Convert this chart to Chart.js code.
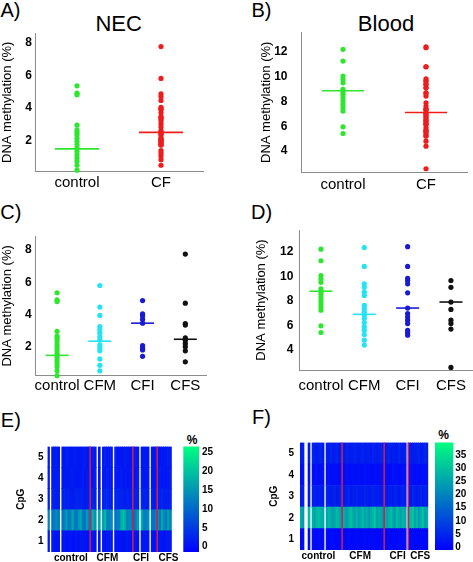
<!DOCTYPE html>
<html><head><meta charset="utf-8">
<script src="https://cdn.jsdelivr.net/npm/chart.js@4.4.1/dist/chart.umd.min.js"></script>
<style>
html,body{margin:0;padding:0;background:#fff;width:473px;height:562px;overflow:hidden;position:relative;font-family:"Liberation Sans",Arial,sans-serif}
canvas{position:absolute}
.t{position:absolute;transform:translate(-50%,-50%);white-space:nowrap;line-height:1;color:#000}
</style></head><body>
<div class="t" style="left:10.5px;top:10px;font-size:20px">A)</div>
<div class="t" style="left:118.7px;top:24px;font-size:22px">NEC</div>
<div class="t" style="left:261.5px;top:10px;font-size:20px">B)</div>
<div class="t" style="left:386px;top:24px;font-size:22px">Blood</div>
<div class="t" style="left:10.8px;top:212px;font-size:20px">C)</div>
<div class="t" style="left:261.5px;top:211.7px;font-size:20px">D)</div>
<div class="t" style="left:10.8px;top:420px;font-size:20px">E)</div>
<div class="t" style="left:261.5px;top:416.7px;font-size:20px">F)</div>
<div class="t" style="left:192px;top:439.5px;font-size:12px;font-weight:bold">%</div>
<div class="t" style="left:443.7px;top:435px;font-size:12px;font-weight:bold">%</div>
<script>
// ---------- data ----------
const groupNames = ['control', 'CFM', 'CFI', 'CFS'];
const twoGroups = ['control', 'CF'];

const necControl = [5.35, 4.9, 4.8, 2.95, 2.65, 2.5, 2.35, 2.15, 1.95, 1.75, 1.55, 1.35, 1.15, 0.95, 0.75, 0.5, 0.2];
const necCFM = [5.8, 4.46, 3.94, 3.24, 3.04, 2.84, 2.6, 2.4, 2.1, 1.94, 1.74, 1.24, 0.84, 0.5];
const necCFI = [4.86, 4.04, 3.9, 3.7, 3.46, 2.06, 1.9, 1.8, 1.4];
const necCFS = [7.75, 4.7, 3.44, 3.34, 2.54, 2.4, 2.2, 2.0, 1.74, 1.06];
const necMediansA = [1.5, 2.51];
const necMediansC = [1.46, 2.34, 3.46, 2.46];

const bloodControl = [12.2, 11.26, 10.05, 9.78, 9.5, 8.97, 8.76, 8.57, 8.3, 8.03, 7.76, 7.5, 7.23, 5.96, 5.42];
const bloodCFM = [12.33, 10.8, 9.38, 9.1, 8.7, 8.44, 7.63, 7.36, 7.04, 6.82, 6.55, 6.23, 5.88, 5.6, 5.26, 4.8, 4.4];
const bloodCFI = [12.4, 10.8, 9.83, 9.65, 9.38, 8.65, 7.41, 6.96, 6.69, 6.42, 6.15, 5.6, 5.42, 5.2];
const bloodCFS = [9.65, 9.1, 7.9, 7.3, 6.42, 6.15, 5.7, 2.58];
const bloodMediansB = [8.86, 7.11];
const bloodMediansD = [8.78, 6.9, 7.41, 7.9];

const necTicks = [2, 4, 6, 8];
const bloodTicks = [4, 6, 8, 10, 12];
const cpgTicks = [1, 2, 3, 4, 5];
const eBarTicks = [0, 5, 10, 15, 20, 25];
const fBarTicks = [0, 5, 10, 15, 20, 25, 30, 35];
const eRange = [-1.4, 26.6];
const fRange = [-1, 39.7];
const eGroupSizes = [21, 21, 12, 8];
const fGroupSizes = [21, 21, 12, 10];
const eGroupTicks = [11, 29, 45.5, 59];
const fGroupTicks = [8.7, 29.5, 48.2, 59.5];

// NEC heatmap (E): CpG rows, one value per sample column
const eCpG1 = [1,null,1.5,1,0.5,1,null,1,1.5,0.5,
  1,1,0.5,1,1.5,0.5,1,1,1,0.5,
  1,1,1.5,0.5,null,1,null,1,0.5,1,
  1,1.5,null,0.5,1,1,1,0.5,1,1.5,
  1,0.5,1,1,0.5,null,1,1,1.5,1,
  null,1,0.5,1,1,1.5,1,0.5,1,1,
  1,null];
const eCpG2 = [13,null,11,12,14,12,null,11,13,16,
  11,13,17,12,11,15,17,12,11,16,
  13,14,18,15,null,17,null,16,19,13,
  12,14,null,11,12,13,18,20,17,12,
  14,13,11,12,16,null,18,13,12,14,
  null,12,11,13,15,12,17,14,12,16,
  13,null];
const eCpG3 = [2,null,2.5,2,1.5,2,null,2,3,2,
  2.5,2,1.5,2,3,2,2.5,2,1.5,2,
  2,2.5,3,2,null,2.5,null,2,2.5,3,
  2,1.5,null,2,2.5,2,3,2,2,2.5,
  2,2,1.5,2.5,2,null,3,2,2.5,2,
  null,2,1.5,2,2.5,2,3,2,2,1.5,
  2,null];
const eCpG4 = [1.5,null,1,1.5,1,2,null,1,1.5,1,
  1,1.5,2,1,1,1.5,1,2,1,1.5,
  1,1.5,1,2,null,1,null,1.5,1,2,
  1.5,1,null,1,1.5,1,2,1,1.5,1,
  1,1.5,1,1,2,null,1.5,1,1,1.5,
  null,1,1.5,1,1,2,1,1.5,1,1,
  1.5,null];
const eCpG5 = [1,null,1.5,1,2,1,null,1.5,1,2,
  1.5,1,1,2,1.5,1,1,1.5,2,1,
  1.5,1,2,1,null,1.5,null,1,2,1,
  1,1.5,null,2,1,1,1.5,1,2,1,
  1.5,1,1,2,1,null,1,1.5,1,1,
  null,1.5,1,2,1,1,1.5,1,1,2,
  1,null];

// Blood heatmap (F)
const fCpG1 = [0.5,1,null,null,0.5,null,1,0.5,0.5,1,
  0.5,0.5,null,1,0.5,0.5,1,0.5,0.5,0.5,
  1,0.5,0.5,0.5,1,0.5,0.5,0.5,1,0.5,
  0.5,0.5,1,0.5,0.5,0.5,1,0.5,0.5,0.5,
  1,0.5,0.5,0.5,1,0.5,0.5,0.5,0.5,1,
  0.5,0.5,1,null,0.5,0.5,1,0.5,0.5,0.5,
  1,0.5,0.5,0.5];
const fCpG2 = [26,24,null,null,29,null,27,25,28,30,
  27,26,null,25,28,27,24,26,29,27,
  25,28,26,24,27,30,26,25,28,24,
  26,29,25,27,24,26,28,31,25,27,
  26,24,28,25,27,30,26,24,29,27,
  25,28,26,null,27,29,31,25,28,24,
  27,30,25,26];
const fCpG3 = [3,4,null,null,3,null,4,5,3,4,
  4,3,null,5,4,3,4,5,3,4,
  5,4,3,4,5,3,4,4,5,3,
  4,3,5,4,3,4,5,4,3,4,
  3,4,5,3,4,4,3,5,4,3,
  4,5,3,null,4,3,5,4,3,4,
  5,3,4,4];
const fCpG4 = [1,1.5,null,null,1,null,1.5,1,2,1,
  1,1.5,null,1,2,1,1,1.5,1,1,
  1.5,1,1,2,1,1,1.5,1,1,1.5,
  1,1,2,1,1.5,1,1,1.5,1,1,
  2,1,1,1.5,1,1,2,1,1.5,1,
  1,1.5,1,null,1,2,1,1,1.5,1,
  1,1.5,1,2];
const fCpG5 = [3,4,null,null,3,null,5,4,3,4,
  5,3,null,4,4,5,3,4,5,3,
  4,4,3,5,4,3,4,5,4,3,
  4,5,3,4,4,3,5,4,3,4,
  5,4,3,4,5,3,4,4,3,5,
  4,3,4,null,5,4,3,4,4,5,
  3,4,5,4];

// ---------- helpers ----------
const FAM = '"Liberation Sans", Arial, sans-serif';
Chart.defaults.font.family = FAM;
Chart.defaults.color = '#000';
const AX = '#8c8c8c';
const GREEN = '#2ee62e', RED = '#ee1c1c', CYAN = '#25e3f2', BLUE = '#1a1ad6', BLACK = '#111111';
const NOGRID = {display: false, drawTicks: false, tickLength: 0};

function mkCanvas(r) {
  const c = document.createElement('canvas');
  c.width = r.w; c.height = r.h;
  c.style.left = r.x + 'px'; c.style.top = r.y + 'px';
  c.style.width = r.w + 'px'; c.style.height = r.h + 'px';
  document.body.appendChild(c);
  return c;
}
function winter(v, range) {
  let t = (v - range[0]) / (range[1] - range[0]);
  t = Math.max(0, Math.min(1, t));
  return 'rgb(0,' + Math.round(255 * t) + ',' + Math.round(255 * (1 - 0.5 * t)) + ')';
}

function dotPanel(rect, area, o) {
  const cv = mkCanvas(rect);
  const ds = [{
    data: o.cats.map((c, i) => ({x: c, y: o.medians[i]})),
    showLine: false, pointStyle: 'line', pointRadius: o.medR, pointBorderWidth: 1.6,
    pointBorderColor: o.colors, pointBackgroundColor: o.colors, clip: false
  }];
  o.groups.forEach((g, i) => ds.push({
    data: g.map(v => ({x: o.cats[i], y: v})), showLine: false, pointRadius: 2.6,
    pointBackgroundColor: o.colors[i], pointBorderColor: o.colors[i], pointBorderWidth: 0, clip: false
  }));
  new Chart(cv, {
    type: 'line',
    data: {labels: o.cats, datasets: ds},
    options: {
      responsive: false, animation: false, events: [],
      layout: {padding: {left: 0, top: area.t - rect.y, right: rect.x + rect.w - area.r, bottom: 0}},
      plugins: {legend: {display: false}, tooltip: {enabled: false}},
      scales: {
        x: {type: 'category', offset: true, grid: NOGRID, border: {color: AX, width: 1},
          ticks: {font: {size: 15}, color: '#000', padding: o.xPad, maxRotation: 0, autoSkip: false},
          afterFit(s) { s.height = rect.y + rect.h - area.b; }},
        y: {type: 'linear', min: o.yMin, max: o.yMax, grid: NOGRID, border: {color: AX, width: 1},
          ticks: {font: {size: 12, weight: 'bold'}, color: '#000', padding: o.yPad},
          afterBuildTicks(s) { s.ticks = o.yTicks.map(v => ({value: v})); },
          afterFit(s) { s.width = area.l - rect.x; },
          title: {display: true, text: 'DNA methylation (%)', font: {size: 13}, color: '#000', padding: {top: o.tPad, bottom: 0}}}
      }
    }
  });
}

function heatPanel(rect, area, o) {
  const cv = mkCanvas(rect);
  const labels = o.rows[0].map((_, i) => String(i));
  const ds = o.rows.map((row, r) => ({
    data: row.map(v => v == null ? null : [r + 0.5, r + 1.5]),
    backgroundColor: row.map(v => v == null ? 'rgba(0,0,0,0)' : winter(v, o.range)),
    grouped: false, barPercentage: 1, categoryPercentage: 1, borderWidth: 0
  }));
  const sep = {
    id: 'sep',
    afterDatasetsDraw(chart) {
      const xs = chart.scales.x, a = chart.chartArea, ctx = chart.ctx;
      ctx.save(); ctx.strokeStyle = '#cc2050'; ctx.lineWidth = 1.6;
      let c = 0;
      for (let i = 0; i < o.sizes.length - 1; i++) {
        c += o.sizes[i];
        const x = xs.getPixelForValue(c - 0.5);
        ctx.beginPath(); ctx.moveTo(x, a.top); ctx.lineTo(x, a.bottom); ctx.stroke();
      }
      ctx.restore();
    }
  };
  new Chart(cv, {
    type: 'bar',
    data: {labels, datasets: ds},
    plugins: [sep],
    options: {
      responsive: false, animation: false, events: [],
      layout: {padding: {left: 0, top: area.t - rect.y, right: rect.x + rect.w - area.r, bottom: 0}},
      plugins: {legend: {display: false}, tooltip: {enabled: false}},
      scales: {
        x: {type: 'category', offset: true, grid: NOGRID, border: {display: false},
          ticks: {font: {size: 10, weight: 'bold'}, color: '#000', padding: 0, maxRotation: 0, autoSkip: false,
            callback: (v, i) => groupNames[i]},
          afterBuildTicks(s) { s.ticks = o.groupTicks.map(v => ({value: v})); },
          afterFit(s) { s.height = rect.y + rect.h - area.b; }},
        y: {type: 'linear', min: 0.5, max: 5.5, grid: NOGRID, border: {display: false},
          ticks: {font: {size: 10, weight: 'bold'}, color: '#000', padding: o.yPad},
          afterBuildTicks(s) { s.ticks = cpgTicks.map(v => ({value: v})); },
          afterFit(s) { s.width = area.l - rect.x; },
          title: {display: true, text: 'CpG', font: {size: 10, weight: 'bold'}, color: '#000', padding: {top: o.tPad, bottom: 0}}}
      }
    }
  });
}

function colorBar(rect, area, o) {
  const cv = mkCanvas(rect);
  const grad = {
    id: 'grad',
    beforeDatasetsDraw(chart) {
      const ys = chart.scales.y, a = chart.chartArea, ctx = chart.ctx;
      const y0 = ys.getPixelForValue(o.range[0]), y1 = ys.getPixelForValue(o.range[1]);
      const g = ctx.createLinearGradient(0, y0, 0, y1);
      g.addColorStop(0, winter(o.range[0], o.range));
      g.addColorStop(1, winter(o.range[1], o.range));
      ctx.save(); ctx.fillStyle = g;
      ctx.fillRect(a.left, y1, a.right - a.left, y0 - y1);
      ctx.restore();
    }
  };
  new Chart(cv, {
    type: 'bar',
    data: {labels: ['%'], datasets: [{data: []}]},
    plugins: [grad],
    options: {
      responsive: false, animation: false, events: [],
      layout: {padding: {left: area.l - rect.x, top: area.t - rect.y, right: 0, bottom: rect.y + rect.h - area.b}},
      plugins: {legend: {display: false}, tooltip: {enabled: false}},
      scales: {
        x: {display: false},
        y: {position: 'right', min: o.range[0], max: o.range[1], grid: NOGRID, border: {display: false},
          ticks: {font: {size: 10, weight: 'bold'}, color: '#000', padding: o.yPad},
          afterBuildTicks(s) { s.ticks = o.ticks.map(v => ({value: v})); },
          afterFit(s) { s.width = rect.x + rect.w - area.r; }}
      }
    }
  });
}

// ---------- panels ----------
const necCF = necCFM.concat(necCFI, necCFS);
const bloodCF = bloodCFM.concat(bloodCFI, bloodCFS);

dotPanel({x: 0, y: 10, w: 230, h: 190}, {l: 35, t: 25, r: 203, b: 171}, {
  cats: twoGroups, groups: [necControl, necCF], colors: [GREEN, RED], medians: necMediansA, medR: 22,
  yMin: 0.15, yMax: 8.54, yTicks: necTicks, xPad: 2.5, yPad: 3, tPad: 0});

dotPanel({x: 250, y: 10, w: 250, h: 190}, {l: 301.5, t: 26.7, r: 467.5, b: 172}, {
  cats: twoGroups, groups: [bloodControl, bloodCF], colors: [GREEN, RED], medians: bloodMediansB, medR: 21,
  yMin: 2.32, yMax: 13.55, yTicks: bloodTicks, xPad: 3.7, yPad: 14, tPad: 8.9});

dotPanel({x: 0, y: 222, w: 235, h: 175}, {l: 35.7, t: 236.7, r: 206.7, b: 375}, {
  cats: groupNames, groups: [necControl, necCFM, necCFI, necCFS], colors: [GREEN, CYAN, BLUE, BLACK],
  medians: necMediansC, medR: 11.5, yMin: 0.24, yMax: 8.83, yTicks: necTicks, xPad: 2, yPad: 4, tPad: 0});

dotPanel({x: 250, y: 215, w: 260, h: 180}, {l: 299.3, t: 230, r: 472.6, b: 370}, {
  cats: groupNames, groups: [bloodControl, bloodCFM, bloodCFI, bloodCFS], colors: [GREEN, CYAN, BLUE, BLACK],
  medians: bloodMediansD, medR: 11.5, yMin: 2.37, yMax: 13.76, yTicks: bloodTicks, xPad: 6.7, yPad: 6, tPad: 3.2});

heatPanel({x: 14, y: 432, w: 180, h: 130}, {l: 47.5, t: 446.5, r: 173.5, b: 552}, {
  rows: [eCpG1, eCpG2, eCpG3, eCpG4, eCpG5], range: eRange, sizes: eGroupSizes, groupTicks: eGroupTicks,
  yPad: 4, tPad: 1.7});
colorBar({x: 175, y: 432, w: 60, h: 130}, {l: 183.3, t: 446.5, r: 199, b: 552}, {range: eRange, ticks: eBarTicks, yPad: 3});

heatPanel({x: 265, y: 428, w: 185, h: 134}, {l: 300, t: 442.5, r: 428.3, b: 550}, {
  rows: [fCpG1, fCpG2, fCpG3, fCpG4, fCpG5], range: fRange, sizes: fGroupSizes, groupTicks: fGroupTicks,
  yPad: 6, tPad: 3.3});
colorBar({x: 425, y: 428, w: 48, h: 134}, {l: 435, t: 442.5, r: 453.3, b: 550}, {range: fRange, ticks: fBarTicks, yPad: 2});
</script>
</body></html>
